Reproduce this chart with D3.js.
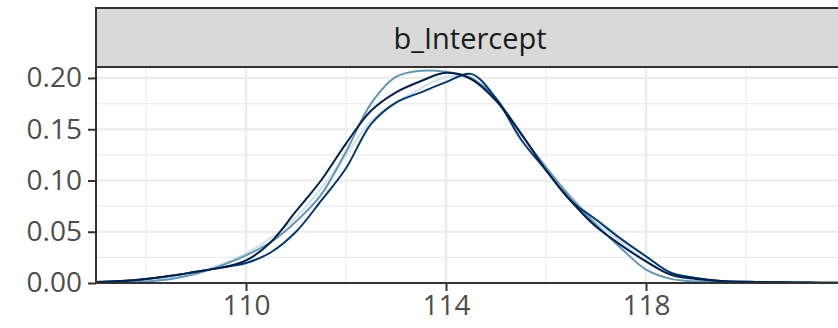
<!DOCTYPE html>
<html>
<head>
<meta charset="utf-8">
<script src="https://cdn.jsdelivr.net/npm/d3@7"></script>
<style>
  html, body { margin: 0; padding: 0; background: #ffffff; }
  svg { display: block; }
</style>
</head>
<body>
<svg id="chart" width="838" height="328"></svg>
<script>
// ---- data ----
const xGrid = [107, 107.5, 108, 108.5, 109, 109.5, 110, 110.5, 111, 111.5, 112, 112.5, 113, 113.5, 114,
               114.5, 115, 115.5, 116, 116.5, 117, 117.5, 118, 118.5, 119, 119.5, 120, 120.5, 121, 121.5, 122];
const chainNames = ["1", "2", "3", "4"];
const chain1 = [0.0004, 0.001, 0.002, 0.005, 0.010, 0.018, 0.029, 0.044, 0.064, 0.092, 0.125, 0.158, 0.176, 0.190, 0.201,
                0.200, 0.177, 0.145, 0.112, 0.085, 0.060, 0.040, 0.022, 0.008, 0.003, 0.0015, 0.001, 0.0007, 0.0004, 0.0002, 0.0001];
const chain2 = [0.0002, 0.0005, 0.0015, 0.004, 0.009, 0.017, 0.027, 0.040, 0.060, 0.086, 0.128, 0.175, 0.201, 0.207, 0.206,
                0.200, 0.180, 0.145, 0.113, 0.083, 0.057, 0.034, 0.013, 0.004, 0.0015, 0.0008, 0.0005, 0.0003, 0.0002, 0.0001, 0.0001];
const chain3 = [0.001, 0.002, 0.004, 0.007, 0.011, 0.015, 0.0195, 0.030, 0.050, 0.080, 0.112, 0.155, 0.176, 0.186, 0.196,
                0.204, 0.180, 0.140, 0.110, 0.080, 0.062, 0.043, 0.026, 0.010, 0.005, 0.002, 0.0012, 0.0008, 0.0005, 0.0003, 0.0002];
const chain4 = [0.001, 0.002, 0.004, 0.007, 0.011, 0.015, 0.022, 0.040, 0.070, 0.100, 0.136, 0.168, 0.186, 0.197, 0.205,
                0.199, 0.178, 0.146, 0.110, 0.080, 0.055, 0.037, 0.021, 0.008, 0.004, 0.002, 0.0012, 0.0008, 0.0005, 0.0003, 0.0002];
const chainColors = ["#d1e1ec", "#6497b1", "#03396c", "#011f4b"];
const xTicks = [110, 114, 118];
const xMinorTicks = [108, 112, 116, 120];
const yTicks = [0, 0.05, 0.10, 0.15, 0.20];
const yMinorTicks = [0.025, 0.075, 0.125, 0.175];
const stripLabel = "b_Intercept";

// ---- layout ----
const svg = d3.select("#chart");
const panel = { left: 96, right: 844, top: 67, bottom: 283 };
const strip = { top: 8, bottom: 67 };
const font = "'Open Sans', 'Noto Sans', sans-serif";

const x = d3.scaleLinear().domain([107, 121.96]).range([panel.left, panel.right]);
const y = d3.scaleLinear().domain([0, 0.2107]).range([panel.bottom, panel.top]);

svg.append("defs").append("clipPath").attr("id", "clip")
  .append("rect").attr("x", panel.left).attr("y", panel.top)
  .attr("width", panel.right - panel.left).attr("height", panel.bottom - panel.top);

// background
svg.append("rect").attr("x", panel.left).attr("y", panel.top)
  .attr("width", panel.right - panel.left).attr("height", panel.bottom - panel.top)
  .attr("fill", "#ffffff");

const grid = svg.append("g").attr("clip-path", "url(#clip)");
grid.selectAll(".ymin").data(yMinorTicks).enter().append("line")
  .attr("x1", panel.left).attr("x2", panel.right)
  .attr("y1", d => y(d)).attr("y2", d => y(d))
  .attr("stroke", "#ebebeb").attr("stroke-width", 1.1);
grid.selectAll(".xmin").data(xMinorTicks).enter().append("line")
  .attr("y1", panel.top).attr("y2", panel.bottom)
  .attr("x1", d => x(d)).attr("x2", d => x(d))
  .attr("stroke", "#ebebeb").attr("stroke-width", 1.1);
grid.selectAll(".ymaj").data(yTicks).enter().append("line")
  .attr("x1", panel.left).attr("x2", panel.right)
  .attr("y1", d => y(d)).attr("y2", d => y(d))
  .attr("stroke", "#ebebeb").attr("stroke-width", 2.2);
grid.selectAll(".xmaj").data(xTicks).enter().append("line")
  .attr("y1", panel.top).attr("y2", panel.bottom)
  .attr("x1", d => x(d)).attr("x2", d => x(d))
  .attr("stroke", "#ebebeb").attr("stroke-width", 2.2);

// density lines
const series = [chain1, chain2, chain3, chain4];
const line = d3.line()
  .x((d, i) => x(xGrid[i]))
  .y(d => y(d))
  .curve(d3.curveCatmullRom.alpha(0.5));
const lines = svg.append("g").attr("clip-path", "url(#clip)");
series.forEach((s, k) => {
  lines.append("path").datum(s)
    .attr("d", line)
    .attr("fill", "none")
    .attr("stroke", chainColors[k])
    .attr("stroke-width", 2)
    .attr("stroke-linejoin", "round");
});

// panel border
svg.append("rect").attr("x", panel.left).attr("y", panel.top)
  .attr("width", panel.right - panel.left).attr("height", panel.bottom - panel.top)
  .attr("fill", "none").attr("stroke", "#333333").attr("stroke-width", 2);

// strip
svg.append("rect").attr("x", panel.left).attr("y", strip.top)
  .attr("width", panel.right - panel.left).attr("height", strip.bottom - strip.top)
  .attr("fill", "#d9d9d9").attr("stroke", "#333333").attr("stroke-width", 2);
svg.append("text")
  .attr("x", (panel.left + panel.right) / 2).attr("y", (strip.top + strip.bottom) / 2)
  .attr("text-anchor", "middle").attr("dominant-baseline", "central")
  .attr("font-family", font).attr("font-size", 29).attr("fill", "#1a1a1a")
  .text(stripLabel);

// axes
const yAxis = d3.axisLeft(y).tickValues(yTicks).tickFormat(d3.format(".2f")).tickSize(8).tickPadding(6);
const gy = svg.append("g").attr("transform", `translate(${panel.left},0)`).call(yAxis);
gy.select(".domain").remove();
gy.selectAll(".tick line").attr("stroke", "#333333").attr("stroke-width", 2);
gy.selectAll(".tick text").attr("font-family", font).attr("font-size", 28).attr("fill", "#4d4d4d");

const xAxis = d3.axisBottom(x).tickValues(xTicks).tickFormat(d3.format("d")).tickSize(8).tickPadding(4);
const gx = svg.append("g").attr("transform", `translate(0,${panel.bottom})`).call(xAxis);
gx.select(".domain").remove();
gx.selectAll(".tick line").attr("stroke", "#333333").attr("stroke-width", 2);
gx.selectAll(".tick text").attr("font-family", font).attr("font-size", 28).attr("fill", "#4d4d4d");
</script>
</body>
</html>
